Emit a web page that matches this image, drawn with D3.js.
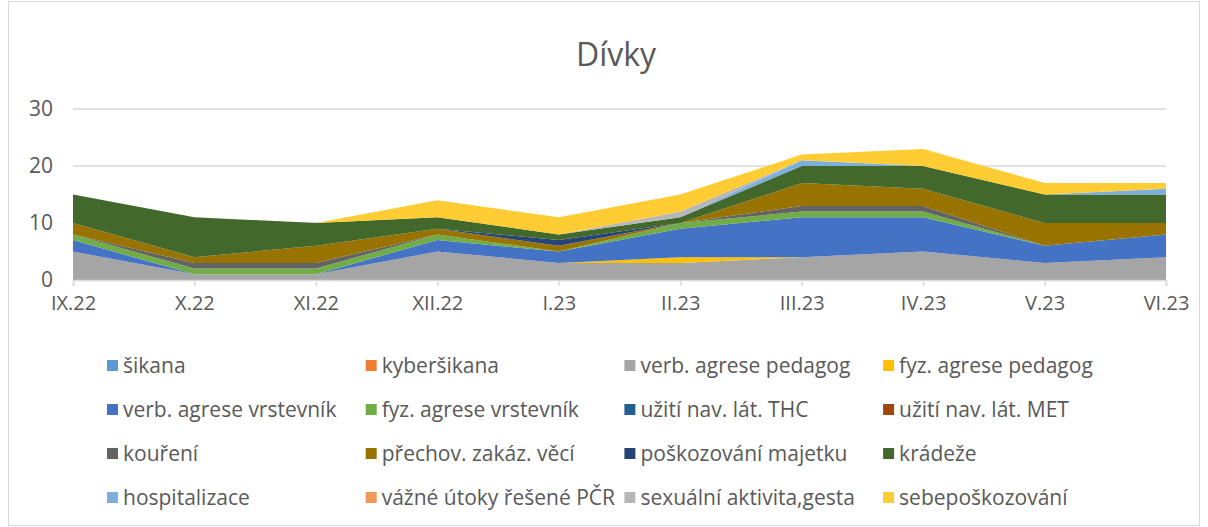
<!DOCTYPE html>
<html>
<head>
<meta charset="utf-8">
<script src="https://cdn.jsdelivr.net/npm/d3@7"></script>
<style>
  body { margin: 0; background: #fff; }
  svg text { font-family: "Open Sans", "Noto Sans", sans-serif; fill: #595959; }
</style>
</head>
<body>
<div id="chart"></div>
<script>
// Months (categories)
const months = ["IX.22", "X.22", "XI.22", "XII.22", "I.23", "II.23", "III.23", "IV.23", "V.23", "VI.23"];

// Series values
const sikana          = [0, 0, 0, 0, 0, 0, 0, 0, 0, 0];
const kybersikana     = [0, 0, 0, 0, 0, 0, 0, 0, 0, 0];
const verbPedagog     = [5, 1, 1, 5, 3, 3, 4, 5, 3, 4];
const fyzPedagog      = [0, 0, 0, 0, 0, 1, 0, 0, 0, 0];
const verbVrstevnik   = [2, 0, 0, 2, 2, 5, 7, 6, 3, 4];
const fyzVrstevnik    = [1, 1, 1, 1, 0, 1, 1, 1, 0, 0];
const thc             = [0, 0, 0, 0, 0, 0, 0, 0, 0, 0];
const met             = [0, 0, 0, 0, 0, 0, 0, 0, 0, 0];
const koureni         = [0, 1, 1, 0, 0, 0, 1, 1, 0, 0];
const prechov         = [2, 1, 3, 1, 1, 0, 4, 3, 4, 2];
const poskozovani     = [0, 0, 0, 0, 1, 0, 0, 0, 0, 0];
const kradeze         = [5, 7, 4, 2, 1, 1, 3, 4, 5, 5];
const hospitalizace   = [0, 0, 0, 0, 0, 0, 1, 0, 0, 1];
const vazneUtoky      = [0, 0, 0, 0, 0, 0, 0, 0, 0, 0];
const sexualni        = [0, 0, 0, 0, 0, 1, 0, 0, 0, 0];
const sebeposkozovani = [0, 0, 0, 3, 3, 3, 1, 3, 2, 1];

const seriesNames = ["šikana", "kyberšikana", "verb. agrese pedagog", "fyz. agrese pedagog",
  "verb. agrese vrstevník", "fyz. agrese vrstevník", "užití nav. lát. THC", "užití nav. lát. MET",
  "kouření", "přechov. zakáz. věcí", "poškozování majetku", "krádeže",
  "hospitalizace", "vážné útoky řešené PČR", "sexuální aktivita,gesta", "sebepoškozování"];
const seriesValues = [sikana, kybersikana, verbPedagog, fyzPedagog, verbVrstevnik, fyzVrstevnik,
  thc, met, koureni, prechov, poskozovani, kradeze, hospitalizace, vazneUtoky, sexualni, sebeposkozovani];
const colors = ["#5B9BD5", "#ED7D31", "#A5A5A5", "#FFC000", "#4472C4", "#70AD47", "#255E91", "#9E480E",
  "#636363", "#997300", "#264478", "#43682B", "#7CAFDD", "#F1975A", "#B7B7B7", "#FFCD33"];
const yTicks = [0, 10, 20, 30];

const W = 1208, H = 527;
const svg = d3.select("#chart").append("svg")
  .attr("width", W).attr("height", H);

// Outer border
svg.append("rect")
  .attr("x", 8.5).attr("y", 1.5)
  .attr("width", 1191).attr("height", 524)
  .attr("fill", "#fff").attr("stroke", "#D9D9D9");

// Title
svg.append("text")
  .attr("x", 616).attr("y", 66)
  .attr("text-anchor", "middle")
  .style("font-size", "32px")
  .text("Dívky");

// Scales
const x = d3.scalePoint().domain(months).range([73, 1166]);
const y = d3.scaleLinear().domain([0, 30]).range([280, 109]);

// Gridlines
svg.append("g").selectAll("line")
  .data(yTicks.slice(1))
  .join("line")
  .attr("x1", 73).attr("x2", 1166)
  .attr("y1", d => y(d)).attr("y2", d => y(d))
  .attr("stroke", "#D9D9D9").attr("stroke-width", 1.5);

// Stacked data
const table = months.map((m, i) => {
  const row = { month: m };
  seriesNames.forEach((s, j) => { row[s] = seriesValues[j][i]; });
  return row;
});
const stack = d3.stack().keys(seriesNames)(table);

const area = d3.area()
  .x(d => x(d.data.month))
  .y0(d => y(d[0]))
  .y1(d => y(d[1]));

svg.append("g").selectAll("path")
  .data(stack)
  .join("path")
  .attr("d", area)
  .attr("fill", (d, i) => colors[i]);

// X axis
const xAxis = svg.append("g")
  .attr("transform", "translate(0,280)")
  .call(d3.axisBottom(x).tickSize(6).tickPadding(10));
xAxis.select(".domain").attr("stroke", "#D9D9D9").attr("stroke-width", 1.5);
xAxis.selectAll(".tick line").attr("stroke", "#D9D9D9").attr("stroke-width", 1.5);
xAxis.selectAll(".tick text").style("font-size", "20px").attr("fill", "#595959");

// Y axis labels
svg.append("g").selectAll("text")
  .data(yTicks)
  .join("text")
  .attr("x", 53).attr("y", d => y(d))
  .attr("dy", "0.35em")
  .attr("text-anchor", "end")
  .style("font-size", "21px")
  .text(d => d);

// Legend: 4 columns x 4 rows
const legend = svg.append("g").selectAll("g")
  .data(seriesNames)
  .join("g")
  .attr("transform", (d, i) => "translate(" + (107 + (i % 4) * 258.7) + "," + (366 + Math.floor(i / 4) * 44) + ")");
legend.append("rect")
  .attr("x", 0).attr("y", -6)
  .attr("width", 11).attr("height", 11)
  .attr("fill", (d, i) => colors[i]);
legend.append("text")
  .attr("x", 16).attr("y", 0)
  .attr("dy", "0.35em")
  .style("font-size", "21px")
  .text(d => d);
</script>
</body>
</html>
